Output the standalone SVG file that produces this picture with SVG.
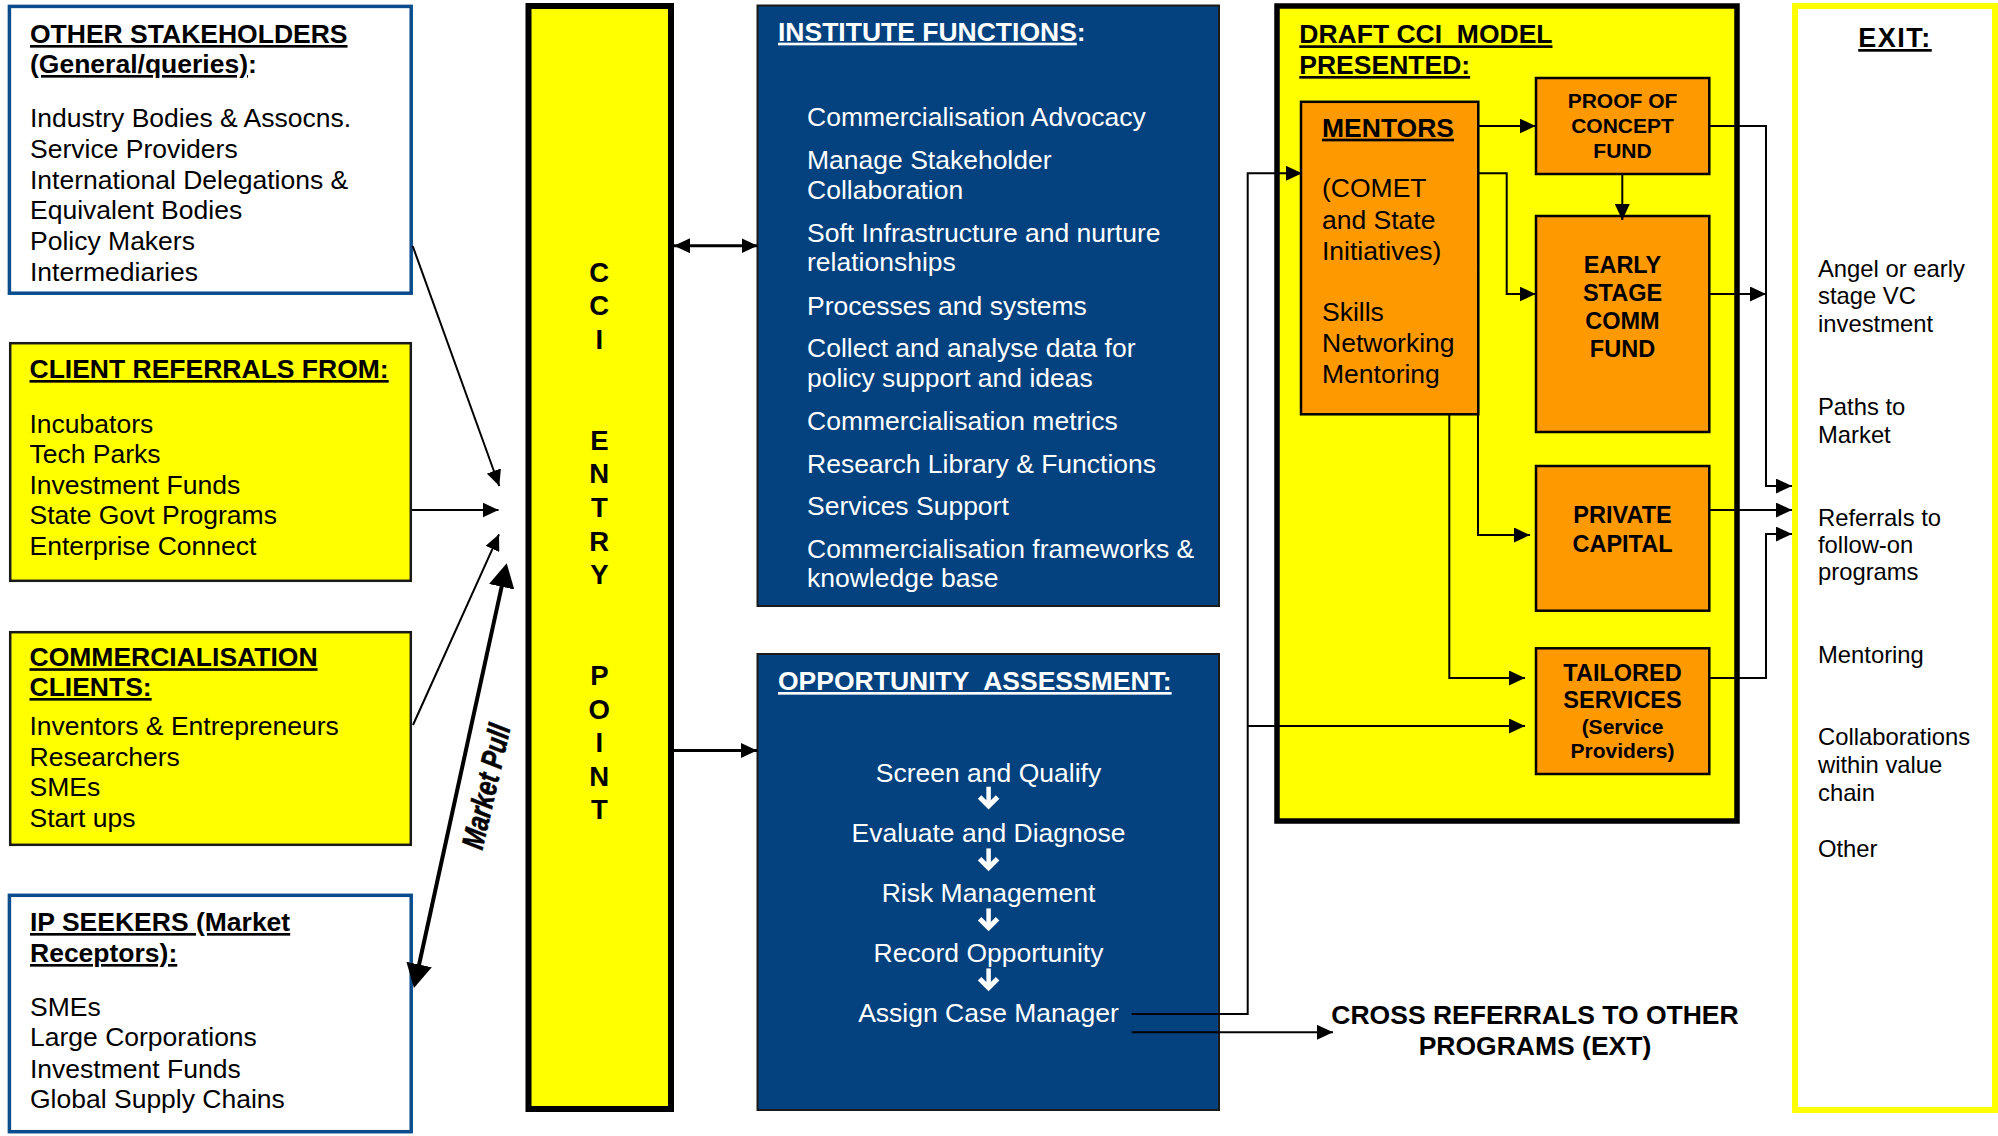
<svg xmlns="http://www.w3.org/2000/svg" xmlns:xlink="http://www.w3.org/1999/xlink" width="1998" height="1136" viewBox="0 0 1998 1136">
<defs>
<style>
.t{font-family:"Liberation Sans",Arial,sans-serif;font-size:26.5px;fill:#000}
.b{font-weight:bold}
.u{text-decoration:underline}
.w{fill:#fff}
.m{text-anchor:middle}
.s21{font-size:21px}
.s23{font-size:23.5px}
.ex{font-size:23.8px}
.ywbox{fill:#FFFF00;stroke:#1a1a1a;stroke-width:2.5}
.wbox{fill:#fff;stroke:#0B4C8C;stroke-width:3.5}
.bbox{fill:#03417F;stroke:#1a1a1a;stroke-width:2}
.obox{fill:#FF9900;stroke:#000;stroke-width:2.5}
</style>
<marker id="ah" viewBox="0 0 16 15" refX="16" refY="7.5" markerWidth="16" markerHeight="15" markerUnits="userSpaceOnUse" orient="auto-start-reverse"><path d="M0,0 L16,7.5 L0,15 z" fill="#000"/></marker>
<marker id="ahBig" viewBox="0 0 24 26" refX="14" refY="13" markerWidth="24" markerHeight="26" markerUnits="userSpaceOnUse" orient="auto-start-reverse"><path d="M0,0 L24,13 L0,26 z" fill="#000"/></marker>
<g id="downArrow" fill="none" stroke="#fff">
<line x1="0" y1="-23.3" x2="0" y2="-4" stroke-width="4.5"/>
<polyline points="-9,-13 0,-4 9,-13" stroke-width="5"/>
</g>
</defs>
<rect width="1998" height="1136" fill="#fff"/>

<g id="other-stakeholders">
<rect class="wbox" x="9.4" y="6.4" width="401.8" height="286.8"/>
<text class="t b" x="30" y="43"><tspan class="u">OTHER STAKEHOLDERS</tspan></text>
<text class="t b" x="30" y="73"><tspan class="u">(General/queries)</tspan>:</text>
<text class="t" x="30" y="127.4">Industry Bodies &amp; Assocns.</text>
<text class="t" x="30" y="158">Service Providers</text>
<text class="t" x="30" y="188.7">International Delegations &amp;</text>
<text class="t" x="30" y="219.3">Equivalent Bodies</text>
<text class="t" x="30" y="250">Policy Makers</text>
<text class="t" x="30" y="280.5">Intermediaries</text>
</g>

<g id="client-referrals">
<rect class="ywbox" x="10.2" y="343.2" width="400.6" height="237.6"/>
<text class="t b u" x="29.5" y="378">CLIENT REFERRALS FROM:</text>
<text class="t" x="29.5" y="432.5">Incubators</text>
<text class="t" x="29.5" y="463.1">Tech Parks</text>
<text class="t" x="29.5" y="493.7">Investment Funds</text>
<text class="t" x="29.5" y="524.3">State Govt Programs</text>
<text class="t" x="29.5" y="554.9">Enterprise Connect</text>
</g>

<g id="commercialisation-clients">
<rect class="ywbox" x="10.2" y="632.2" width="400.6" height="212.6"/>
<text class="t b u" x="29.5" y="666.2">COMMERCIALISATION</text>
<text class="t b u" x="29.5" y="696">CLIENTS:</text>
<text class="t" x="29.5" y="735">Inventors &amp; Entrepreneurs</text>
<text class="t" x="29.5" y="765.5">Researchers</text>
<text class="t" x="29.5" y="796.3">SMEs</text>
<text class="t" x="29.5" y="827.2">Start ups</text>
</g>

<g id="ip-seekers">
<rect class="wbox" x="9.4" y="895.3" width="401.8" height="236.4"/>
<text class="t b u" x="30" y="931">IP SEEKERS (Market</text>
<text class="t b u" x="30" y="962">Receptors):</text>
<text class="t" x="30" y="1015.5">SMEs</text>
<text class="t" x="30" y="1046.3">Large Corporations</text>
<text class="t" x="30" y="1077.5">Investment Funds</text>
<text class="t" x="30" y="1108.4">Global Supply Chains</text>
</g>

<g id="entry-point">
<rect x="528.5" y="6" width="142.5" height="1103" fill="#FFFF00" stroke="#000" stroke-width="6"/>
<g class="t b m" style="font-size:27.5px">
<text x="599.3" y="281.7">C</text>
<text x="599.3" y="315.3">C</text>
<text x="599.3" y="348.9">I</text>
<text x="599.3" y="449.7">E</text>
<text x="599.3" y="483.3">N</text>
<text x="599.3" y="516.9">T</text>
<text x="599.3" y="550.5">R</text>
<text x="599.3" y="584.1">Y</text>
<text x="599.3" y="685">P</text>
<text x="599.3" y="718.6">O</text>
<text x="599.3" y="752.2">I</text>
<text x="599.3" y="785.8">N</text>
<text x="599.3" y="819.4">T</text>
</g>
</g>

<g id="institute-functions">
<rect class="bbox" x="757.5" y="5.5" width="461.5" height="600.5"/>
<text class="t b w" x="778" y="40.7"><tspan class="u">INSTITUTE FUNCTIONS</tspan>:</text>
<text class="t w" x="807" y="125.7">Commercialisation Advocacy</text>
<text class="t w" x="807" y="169.2">Manage Stakeholder</text>
<text class="t w" x="807" y="198.5">Collaboration</text>
<text class="t w" x="807" y="241.5">Soft Infrastructure and nurture</text>
<text class="t w" x="807" y="271">relationships</text>
<text class="t w" x="807" y="315">Processes and systems</text>
<text class="t w" x="807" y="356.9">Collect and analyse data for</text>
<text class="t w" x="807" y="386.7">policy support and ideas</text>
<text class="t w" x="807" y="429.8">Commercialisation metrics</text>
<text class="t w" x="807" y="472.5">Research Library &amp; Functions</text>
<text class="t w" x="807" y="514.8">Services Support</text>
<text class="t w" x="807" y="557.5">Commercialisation frameworks &amp;</text>
<text class="t w" x="807" y="587.2">knowledge base</text>
</g>

<g id="opportunity-assessment">
<rect class="bbox" x="757.5" y="654" width="461.5" height="456"/>
<text class="t b w u" x="778" y="690">OPPORTUNITY&#160; ASSESSMENT:</text>
<text class="t w m" x="988.5" y="781.5">Screen and Qualify</text>
<text class="t w m" x="988.5" y="841.5">Evaluate and Diagnose</text>
<text class="t w m" x="988.5" y="901.5">Risk Management</text>
<text class="t w m" x="988.5" y="962">Record Opportunity</text>
<text class="t w m" x="988.5" y="1022">Assign Case Manager</text>
<use xlink:href="#downArrow" x="988.6" y="810"/>
<use xlink:href="#downArrow" x="988.6" y="871.7"/>
<use xlink:href="#downArrow" x="988.6" y="931.7"/>
<use xlink:href="#downArrow" x="988.6" y="991.7"/>
</g>

<g id="draft-cci-model">
<rect x="1277" y="6" width="460" height="815" fill="#FFFF00" stroke="#000" stroke-width="5.5"/>
<text class="t b u" x="1299.3" y="43.3">DRAFT CCI&#160; MODEL</text>
<text class="t b u" x="1299.3" y="74">PRESENTED:</text>
</g>

<g id="mentors">
<rect class="obox" x="1301" y="101.8" width="177.3" height="312.5"/>
<text class="t b u" x="1322" y="136.7">MENTORS</text>
<text class="t" x="1322" y="197.3">(COMET</text>
<text class="t" x="1322" y="229">and State</text>
<text class="t" x="1322" y="260">Initiatives)</text>
<text class="t" x="1322" y="320.7">Skills</text>
<text class="t" x="1322" y="351.7">Networking</text>
<text class="t" x="1322" y="382.7">Mentoring</text>
</g>

<g id="proof-of-concept-fund">
<rect class="obox" x="1536" y="78" width="173.3" height="96"/>
<text class="t b m s21" x="1622.5" y="108.3">PROOF OF</text>
<text class="t b m s21" x="1622.5" y="133.3">CONCEPT</text>
<text class="t b m s21" x="1622.5" y="157.7">FUND</text>
</g>

<g id="early-stage-comm-fund">
<rect class="obox" x="1536" y="216" width="173.3" height="216"/>
<text class="t b m s23" x="1622.5" y="272.7">EARLY</text>
<text class="t b m s23" x="1622.5" y="300.7">STAGE</text>
<text class="t b m s23" x="1622.5" y="329">COMM</text>
<text class="t b m s23" x="1622.5" y="356.7">FUND</text>
</g>

<g id="private-capital">
<rect class="obox" x="1536" y="466" width="173.3" height="144.7"/>
<text class="t b m s23" x="1622.5" y="523.3">PRIVATE</text>
<text class="t b m s23" x="1622.5" y="551.7">CAPITAL</text>
</g>

<g id="tailored-services">
<rect class="obox" x="1536" y="648.3" width="173.3" height="125.7"/>
<text class="t b m s23" x="1622.5" y="680.7">TAILORED</text>
<text class="t b m s23" x="1622.5" y="708.3">SERVICES</text>
<text class="t b m s21" x="1622.5" y="734">(Service</text>
<text class="t b m s21" x="1622.5" y="758.3">Providers)</text>
</g>

<g id="exit">
<rect x="1795" y="6" width="200" height="1104" fill="#fff" stroke="#FFFF00" stroke-width="6"/>
<text class="t b u m" x="1895" y="47" style="font-size:27px;letter-spacing:1.5px">EXIT:</text>
<text class="t ex" x="1818" y="276.7">Angel or early</text>
<text class="t ex" x="1818" y="304.3">stage VC</text>
<text class="t ex" x="1818" y="331.7">investment</text>
<text class="t ex" x="1818" y="415">Paths to</text>
<text class="t ex" x="1818" y="442.7">Market</text>
<text class="t ex" x="1818" y="525.7">Referrals to</text>
<text class="t ex" x="1818" y="552.7">follow-on</text>
<text class="t ex" x="1818" y="580">programs</text>
<text class="t ex" x="1818" y="663.3">Mentoring</text>
<text class="t ex" x="1818" y="745">Collaborations</text>
<text class="t ex" x="1818" y="773">within value</text>
<text class="t ex" x="1818" y="801">chain</text>
<text class="t ex" x="1818" y="857">Other</text>
</g>

<g id="cross-referrals">
<text class="t b m" x="1535" y="1024">CROSS REFERRALS TO OTHER</text>
<text class="t b m" x="1535" y="1055">PROGRAMS (EXT)</text>
</g>

<g id="connectors" fill="none" stroke="#000" stroke-width="2">
<line x1="412.7" y1="246" x2="499.3" y2="486" marker-end="url(#ah)"/>
<line x1="412" y1="510" x2="498.5" y2="510" marker-end="url(#ah)"/>
<line x1="413" y1="725" x2="499" y2="534.3" marker-end="url(#ah)"/>
<line x1="416.1" y1="978.2" x2="504.6" y2="573.1" stroke-width="4" marker-start="url(#ahBig)" marker-end="url(#ahBig)"/>
<line x1="674" y1="245.7" x2="757.5" y2="245.7" stroke-width="3" marker-start="url(#ah)" marker-end="url(#ah)"/>
<line x1="674" y1="750.5" x2="757" y2="750.5" stroke-width="3" marker-end="url(#ah)"/>
<path d="M1131.7,1014 H1247.7 V173.3 H1302" marker-end="url(#ah)"/>
<path d="M1247.7,726 H1525" marker-end="url(#ah)"/>
<path d="M1131.7,1032.3 H1333" marker-end="url(#ah)"/>
<path d="M1478,126 H1535.5" marker-end="url(#ah)"/>
<path d="M1478,173.3 H1506.7 V294 H1535.5" marker-end="url(#ah)"/>
<path d="M1622.3,174 V220" marker-end="url(#ah)"/>
<path d="M1478,270 V535 H1530" marker-end="url(#ah)"/>
<path d="M1449.3,414 V678 H1525" marker-end="url(#ah)"/>
<path d="M1709,126 H1766 V486 H1792" marker-end="url(#ah)"/>
<path d="M1709,294 H1766" marker-end="url(#ah)"/>
<path d="M1709,510 H1792" marker-end="url(#ah)"/>
<path d="M1709,678 H1766 V534 H1792" marker-end="url(#ah)"/>
</g>

<g id="market-pull-label">
<text transform="translate(496.5,789) rotate(-77)" text-anchor="middle" font-family="'Liberation Sans Narrow','Liberation Sans',Arial,sans-serif" font-weight="bold" font-style="italic" font-size="31" stroke="#000" stroke-width="0.6" textLength="127" lengthAdjust="spacingAndGlyphs">Market Pull</text>
</g>
</svg>
